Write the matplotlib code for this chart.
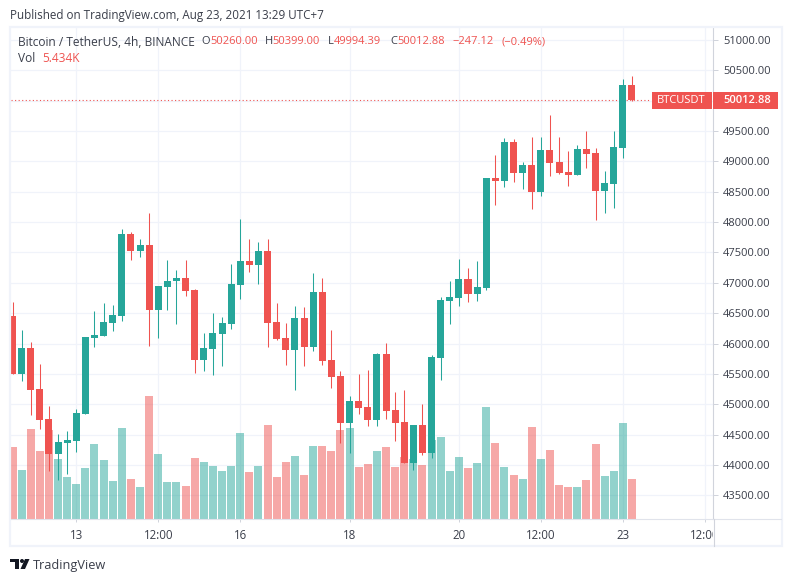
# BTCUSDT 4h Kerzen mit Volumen, TradingView Screenshot nachgebaut
import matplotlib
matplotlib.use('Agg')
import matplotlib.pyplot as plt
import matplotlib.transforms as mtrans
from matplotlib.lines import Line2D
from matplotlib.patches import Rectangle, Ellipse, Polygon
import numpy as np

plt.rcParams['font.family'] = ['Open Sans', 'DejaVu Sans']

opens = [46455, 45499, 45927, 45252, 44758, 44182, 44363, 44396, 44840, 46092, 46125, 46339, 46455,
         47805, 47525, 47624, 46553, 46932, 47031, 47080, 46883, 45730, 45911, 46158, 46323, 46965,
         47360, 47294, 47525, 46356, 46092, 45894, 46422, 45944, 46850, 45730, 45466, 44692, 45054,
         44956, 44741, 45829, 44906, 44709, 44033, 44659, 44198, 45763, 46702, 46751, 47064, 46817,
         46916, 48727, 48678, 49320, 48810, 48941, 48497, 49188, 48991, 48826, 48777, 49205, 49139,
         48513, 48629, 49221, 50260.00]
highs = [46685, 46224, 46026, 45664, 44972, 44511, 44560, 44923, 46109, 46537, 46669, 46636, 47887,
         47838, 47723, 48151, 46949, 47377, 47212, 47377, 46899, 46175, 46504, 46438, 47311, 48052,
         47723, 47673, 47723, 46669, 46339, 46619, 46603, 47163, 47080, 46224, 45549, 45137, 45499,
         45565, 45845, 46010, 45203, 45236, 44659, 45005, 45812, 46767, 47031, 47393, 47245, 47360,
         48727, 49106, 49386, 49370, 48991, 49403, 49403, 49765, 49403, 49172, 49271, 49501, 49221,
         48843, 49501, 50358, 50399.00]
lows = [45499, 45384, 44824, 44593, 43902, 43753, 43852, 44215, 44840, 45944, 46125, 46207, 46372,
        47377, 47426, 45960, 46092, 46553, 46323, 46784, 45516, 45549, 45483, 45631, 46241, 46734,
        47179, 46982, 45944, 46059, 45647, 45236, 45631, 45878, 45647, 45269, 44363, 44198, 44840,
        44643, 44643, 44758, 44396, 44033, 43918, 44165, 44116, 45401, 46323, 46619, 46685, 46702,
        46883, 48283, 48579, 48661, 48546, 48217, 48431, 48760, 48793, 48596, 48777, 48892, 48036,
        48151, 48233, 49057, 49994.39]
closes = [45499, 45927, 45236, 44741, 44182, 44379, 44412, 44857, 46109, 46142, 46356, 46471, 47805,
          47525, 47624, 46553, 46949, 47031, 47080, 46866, 45730, 45927, 46175, 46339, 46982, 47360,
          47294, 47525, 46339, 46076, 45894, 46422, 45944, 46850, 45713, 45450, 44692, 45054, 44939,
          44741, 45829, 44890, 44692, 44033, 44659, 44198, 45779, 46718, 46767, 47064, 46817, 46932,
          48727, 48678, 49320, 48810, 48941, 48497, 49188, 48974, 48810, 48777, 49205, 49123, 48513,
          48645, 49238, 50260, 50012.88]
# Volumen in Tausend
volumes = [9.8, 6.7, 12.2, 9.2, 12.1, 8.2, 5.7, 4.8, 6.9, 10.2, 8.0, 5.2, 12.4, 5.4, 4.4, 16.7, 8.8,
           5.0, 5.0, 4.5, 8.3, 7.8, 7.2, 6.5, 7.2, 11.7, 6.4, 7.2, 12.8, 5.7, 7.8, 8.6, 6.0, 9.9, 9.9,
           9.2, 12.1, 12.4, 7.1, 7.5, 9.2, 9.8, 7.1, 8.4, 8.2, 7.3, 10.7, 11.2, 6.5, 8.4, 6.9, 7.6,
           15.2, 10.3, 7.1, 6.0, 5.4, 12.5, 8.2, 9.4, 4.6, 4.4, 4.4, 5.3, 10.2, 5.8, 6.5, 13.1, 5.434]

price_ticks = [43500, 44000, 44500, 45000, 45500, 46000, 46500, 47000, 47500, 48000, 48500, 49000,
               49500, 50000, 50500, 51000]
time_tick_pos = [7, 16, 25, 37, 49, 58, 67, 76]
time_tick_labels = ['13', '12:00', '16', '18', '20', '12:00', '23', '12:00']

GREEN = '#26a69a'
RED = '#ef5350'
GRID = '#f0f3fa'
AXCOL = '#d1d4dc'
TXT = '#3a3e4a'

W, H = 793, 582
fig = plt.figure(figsize=(W/100, H/100), dpi=100)


def fx(px):
    return px/W


def fy(py):
    return 1 - py/H


# Achse in Pixeln: links 11, rechts 713, oben 28, unten 519
ax = fig.add_axes([fx(11), fy(519), (713-11)/W, (519-28)/H])
step = 9.11
ax.set_xlim((11-12.5)/step, (713-12.5)/step)
ax.set_ylim(43111, 51197)

o = np.array(opens)
c = np.array(closes)
h = np.array(highs)
l = np.array(lows)
v = np.array(volumes)
x = np.arange(len(o))
colors = [GREEN if cc >= oo else RED for oo, cc in zip(o, c)]

# Volumen unten, eigene Skala ueber Achsenanteil
vol_top = 66.8
trans = mtrans.blended_transform_factory(ax.transData, ax.transAxes)
ax.bar(x, v/vol_top, width=0.88, color=colors, alpha=0.5, linewidth=0, transform=trans, zorder=1)

# Kerzen
ax.vlines(x, l, h, colors=colors, linewidth=0.75, zorder=2)
ax.bar(x, np.maximum(np.abs(c-o), 20), bottom=np.minimum(o, c), width=0.77, color=colors, linewidth=0, zorder=3)

ax.axhline(closes[-1], xmax=(650-11)/702, color=RED, linewidth=0.8, linestyle=(0, (1, 2.2)), zorder=2)

ax.set_axisbelow(True)
ax.grid(True, color=GRID, linewidth=0.9)
ax.set_xticks(time_tick_pos)
ax.set_xticklabels(time_tick_labels)
ax.set_yticks(price_ticks)
# 50000 liegt unter dem Preisschild, daher kein Label
ax.set_yticklabels(['' if p == 50000 else '%.2f' % p for p in price_ticks])
ax.yaxis.tick_right()
ax.tick_params(axis='y', length=3.6, width=0.72, pad=3.6, color=AXCOL, labelsize=8.0, labelcolor=TXT)
ax.tick_params(axis='x', length=2.5, width=0.72, pad=5, color=AXCOL, labelsize=8.3, labelcolor=TXT)
for s in ['top', 'left', 'bottom']:
    ax.spines[s].set_visible(False)
ax.spines['right'].set_color(AXCOL)
ax.spines['right'].set_linewidth(0.8)

# letztes 12:00 wird an der Preisachse abgeschnitten
lab = ax.get_xticklabels()[-1]
lab.set_clip_on(True)
lab.set_clip_box(mtrans.Bbox([[0, 0], [713, H]]))

# Rahmen und Linien
fig.add_artist(Rectangle((fx(10), fy(546)), (782-10)/W, (546-27)/H, transform=fig.transFigure,
                         fill=False, edgecolor=GRID, linewidth=1.6, zorder=5))
fig.add_artist(Line2D([fx(11), fx(781)], [fy(519), fy(519)], color='#e0e3eb', linewidth=0.8, zorder=5))
fig.add_artist(Line2D([fx(713.5), fx(713.5)], [fy(519), fy(546)], color=AXCOL, linewidth=0.8, zorder=5))

# Preisschilder rechts
fig.add_artist(Rectangle((fx(652), fy(109)), 59.5/W, 17/H, transform=fig.transFigure, color=RED, linewidth=0, zorder=5))
fig.add_artist(Rectangle((fx(713), fy(109)), 65/W, 17/H, transform=fig.transFigure, color=RED, linewidth=0, zorder=5))
fig.text(fx(681.5), fy(100.5), 'BTCUSDT', color='white', fontsize=8.0, ha='center', va='center', zorder=6)
fig.text(fx(723), fy(100.5), '50012.88', color='white', fontsize=8.0, ha='left', va='center', zorder=6, fontweight='semibold')

# Kopfzeilen
fig.text(fx(10), fy(15), 'Published on TradingView.com, Aug 23, 2021 13:29 UTC+7', color=TXT, fontsize=8.4, va='center', zorder=6)
fig.text(fx(18), fy(42), 'Bitcoin / TetherUS, 4h, BINANCE', color=TXT, fontsize=8.6, va='center', zorder=6)
for px, s, col in [(201, 'O', TXT), (210, '50260.00', RED), (265, 'H', TXT), (272, '50399.00', RED),
                   (328, 'L', TXT), (334, '49994.39', RED), (390, 'C', TXT), (397, '50012.88', RED),
                   (452, '\u2212247.12', RED), (501, '(\u22120.49%)', RED)]:
    fig.text(fx(px), fy(42), s, color=col, fontsize=8.0, va='center', zorder=6)
fig.text(fx(18), fy(59), 'Vol', color=TXT, fontsize=8.6, va='center', zorder=6)
fig.text(fx(42), fy(59), '5.434K', color=RED, fontsize=8.6, va='center', zorder=6)

# TradingView Logo unten links
LOGO = '#131722'
fig.add_artist(Rectangle((fx(10), fy(562)), 9/W, 3/H, transform=fig.transFigure, color=LOGO, linewidth=0, zorder=6))
fig.add_artist(Rectangle((fx(15), fy(569)), 4/W, 10/H, transform=fig.transFigure, color=LOGO, linewidth=0, zorder=6))
fig.add_artist(Polygon([[fx(25), fy(559)], [fx(29.5), fy(559)], [fx(25), fy(569)], [fx(20.5), fy(569)]],
                       transform=fig.transFigure, color=LOGO, linewidth=0, zorder=6))
fig.add_artist(Ellipse((fx(22), fy(561)), 4/W, 4/H, transform=fig.transFigure, color=LOGO, linewidth=0, zorder=6))
fig.text(fx(33), fy(565), 'TradingView', color=TXT, fontsize=9.2, va='center', zorder=6)

fig.savefig('out.png', dpi=100)
